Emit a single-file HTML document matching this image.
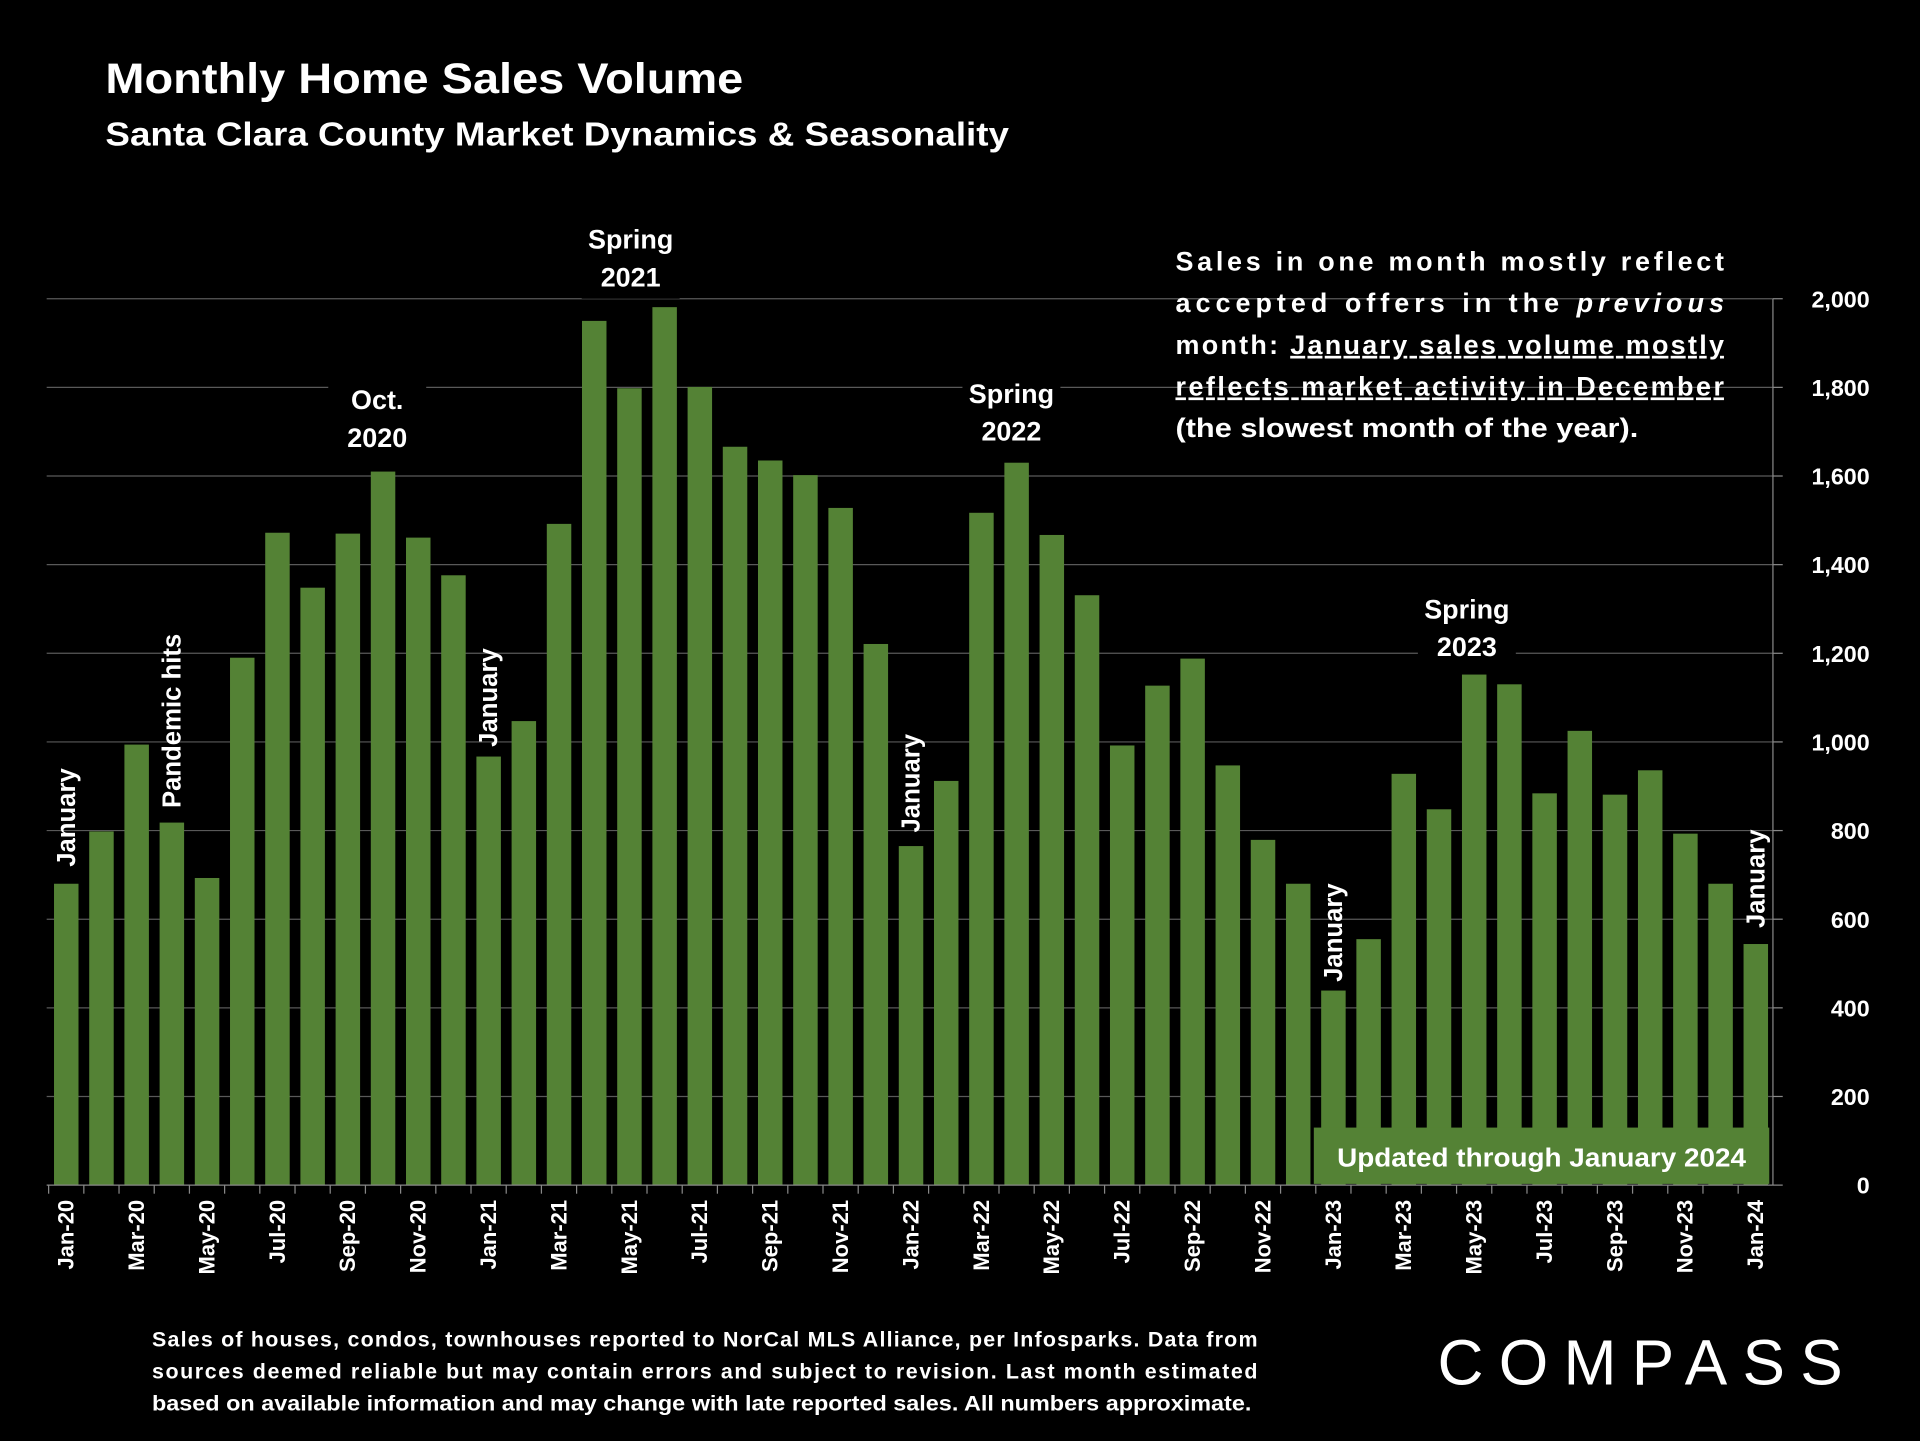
<!DOCTYPE html>
<html><head><meta charset="utf-8"><style>
html,body{margin:0;padding:0;background:#000;}
svg{display:block;}
text{font-family:"Liberation Sans",sans-serif;fill:#fff;font-weight:bold;}
</style></head><body>
<svg width="1920" height="1441" viewBox="0 0 1568 1177">
<rect width="1568" height="1177" fill="#000"/>
<text x="86" y="76" font-size="35" textLength="521" lengthAdjust="spacingAndGlyphs">Monthly Home Sales Volume</text>
<text x="86" y="119" font-size="27" textLength="738" lengthAdjust="spacingAndGlyphs">Santa Clara County Market Dynamics &amp; Seasonality</text>
<g id="grid"></g>
<g id="bars"></g>
<g id="axis"></g>
<g id="ann"></g>
<g font-size="22">
<text x="960" y="221" textLength="448" lengthAdjust="spacing">Sales in one month mostly reflect</text>
<text x="960" y="255" textLength="448" lengthAdjust="spacing">accepted offers in the <tspan font-style="italic">previous</tspan></text>
<text x="960" y="289" textLength="448" lengthAdjust="spacing">month:  <tspan text-decoration="underline">January sales volume mostly</tspan></text>
<text x="960" y="323" textLength="448" lengthAdjust="spacing" text-decoration="underline">reflects market activity in December</text>
<text x="960" y="357" textLength="378" lengthAdjust="spacingAndGlyphs">(the slowest month of the year).</text>
</g>
<rect x="1073" y="921" width="372" height="46" fill="#548235"/>
<text x="1259" y="953" font-size="21" text-anchor="middle" textLength="334" lengthAdjust="spacingAndGlyphs">Updated through January 2024</text>
<g font-size="17.5">
<text x="124" y="1100" textLength="903" lengthAdjust="spacing">Sales of houses, condos, townhouses reported to NorCal MLS Alliance, per Infosparks. Data from</text>
<text x="124" y="1126" textLength="903" lengthAdjust="spacing">sources deemed reliable but may contain errors and subject to revision. Last month estimated</text>
<text x="124" y="1152" textLength="898" lengthAdjust="spacingAndGlyphs">based on available information and may change with late reported sales. All numbers approximate.</text>
</g>
<text x="1174" y="1131" font-size="52" textLength="331" lengthAdjust="spacing" style="font-weight:normal">COMPASS</text>
<script>
const months=["Jan-20","Feb-20","Mar-20","Apr-20","May-20","Jun-20","Jul-20","Aug-20","Sep-20","Oct-20","Nov-20","Dec-20","Jan-21","Feb-21","Mar-21","Apr-21","May-21","Jun-21","Jul-21","Aug-21","Sep-21","Oct-21","Nov-21","Dec-21","Jan-22","Feb-22","Mar-22","Apr-22","May-22","Jun-22","Jul-22","Aug-22","Sep-22","Oct-22","Nov-22","Dec-22","Jan-23","Feb-23","Mar-23","Apr-23","May-23","Jun-23","Jul-23","Aug-23","Sep-23","Oct-23","Nov-23","Dec-23","Jan-24"];
const sales=[680,798,994,818,693,1190,1472,1348,1470,1610,1461,1376,967,1047,1492,1950,1798,1981,1801,1666,1635,1602,1528,1221,765,912,1517,1630,1467,1331,992,1127,1188,947,779,680,439,555,928,848,1152,1130,884,1025,881,936,793,680,544];
const yTicks=[0,200,400,600,800,1000,1200,1400,1600,1800,2000];
const NS="http://www.w3.org/2000/svg";
function y(v){return 968-v*0.362;}
function x(i){return 54+i*28.75;}
function mk(tag,attrs,parent){const e=document.createElementNS(NS,tag);for(const k in attrs)e.setAttribute(k,attrs[k]);parent.appendChild(e);return e;}
const grid=document.getElementById('grid'),bars=document.getElementById('bars'),axis=document.getElementById('axis'),ann=document.getElementById('ann');
yTicks.forEach(t=>{
 if(t>0){const l=mk('line',{x1:38,x2:1448,y1:y(t),y2:y(t),stroke:'#595959','stroke-width':1},grid);
 
 }
 const tk=mk('line',{x1:1448,x2:1456,y1:y(t),y2:y(t),stroke:'#888'},axis);
 
 
 const tx=mk('text',{x:1527,y:y(t)+7,'font-size':19,'text-anchor':'end'},axis);
 tx.textContent=t.toLocaleString('en-US');
 
 
});
const ax=mk('line',{x1:38,x2:1448,y1:968,y2:968,stroke:'#888'},axis);


const ay=mk('line',{x1:1448,x2:1448,y1:244,y2:968,stroke:'#888'},axis);


sales.forEach((v,i)=>{
 const r=mk('rect',{x:x(i)-10,y:y(v),width:20,height:968-y(v),fill:'#548235'},bars);
 
 
 const tk=mk('line',{x1:x(i)-14.4,x2:x(i)-14.4,y1:968,y2:975,stroke:'#888'},axis);
 
 
 if(i%2===0){const t=mk('text',{x:0,y:0,'font-size':18,'text-anchor':'end',transform:`translate(${x(i)+6},980) rotate(-90)`},axis);
 t.textContent=months[i];
 
 }
});
const horiz=[[["Spring","2021"],515,203],[["Oct.","2020"],308,334],[["Spring","2022"],826,329],[["Spring","2023"],1198,505]];
horiz.forEach(a=>{
 const w=80;mk('rect',{x:a[1]-w/2,y:a[2]-25,width:w,height:66,fill:'#000'},ann);
 a[0].forEach((s,k)=>{const t=mk('text',{x:a[1],y:a[2]+k*31,'font-size':22,'text-anchor':'middle'},ann);
 t.textContent=s;
 
 });
});
const vert=[["January",0,708],["Pandemic hits",3,660],["January",12,610],["January",24,680],["January",36,802],["January",48,758]];
vert.forEach(a=>{
 const t=mk('text',{x:0,y:0,'font-size':21,transform:`translate(${x(a[1])+7},${a[2]}) rotate(-90)`},ann);
 t.textContent=a[0];
 
 
});
</script>
</svg>
</body></html>
